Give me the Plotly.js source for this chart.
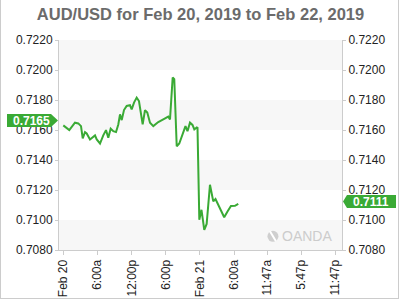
<!DOCTYPE html>
<html><head><meta charset="utf-8">
<script src="https://cdn.plot.ly/plotly-3.0.1.min.js"></script>
<style>
body{margin:0;background:#fff;}
#wrap{position:relative;width:400px;height:300px;}
#chart{width:400px;height:300px;}
#frame{position:absolute;left:0;top:0;width:399px;height:299px;box-sizing:border-box;border:1px solid #cccccc;border-top:none;pointer-events:none;}
</style>
</head><body>
<div id="wrap"><div id="chart"></div><div id="frame"></div></div>
<script>
// Hours since Feb 20, 2019 00:00
const hours = [0, 1.05, 2.05, 2.63, 3.11, 3.41, 3.81, 4.11, 4.69, 5.27, 5.57, 5.87, 6.45, 7.02, 7.5, 7.9, 8.32, 8.78, 9.26, 9.66,
  9.96, 10.26, 10.66, 11.13, 11.71, 12.01, 12.42, 12.89, 13.29, 13.94, 14.35, 14.75, 15.23, 15.81, 16.68, 17.56, 18.44, 18.74,
  19.21, 19.49, 19.92, 20.37, 21.07, 21.46, 21.81, 22.25, 22.69, 23.01, 23.43, 23.57, 23.89, 24.27, 24.76, 25.18, 25.76,
  26.34, 26.73, 27.17, 27.82, 28.26, 28.84, 29.45, 30.15, 30.73];
const prices = [0.71631, 0.71599, 0.71649, 0.71644, 0.71626, 0.71544, 0.71586, 0.71577, 0.71537, 0.71559, 0.71564, 0.71537,
  0.71510, 0.71564, 0.71599, 0.71548, 0.71609, 0.71592, 0.71586, 0.71637, 0.71704, 0.71666, 0.71733, 0.71760, 0.71765,
  0.71738, 0.71783, 0.71816, 0.71793, 0.71637, 0.71733, 0.71716, 0.71649, 0.71626, 0.71653, 0.71671, 0.71689, 0.71671,
  0.71950, 0.71939, 0.71492, 0.71510, 0.71592, 0.71626, 0.71592, 0.71649, 0.71634, 0.71604, 0.71617, 0.71614,
  0.71001, 0.71068, 0.70934, 0.70974, 0.71235, 0.71124, 0.71140, 0.71105, 0.71057, 0.71018, 0.71057, 0.71093, 0.71095, 0.71108];

const xTickVals = [0, 6, 12, 18, 24, 30, 35.783, 41.783, 47.783];
const xTickText = ['Feb 20', '6:00a', '12:00p', '6:00p', 'Feb 21', '6:00a', '11:47a', '5:47p', '11:47p'];
const yTickVals = [0.708, 0.710, 0.712, 0.714, 0.716, 0.718, 0.720, 0.722];
const openLabel = 0.7165;
const lastLabel = 0.7111;
const titleText = 'AUD/USD for Feb 20, 2019 to Feb 22, 2019';

const green = '#3aaa35';
const font = 'Liberation Sans, Arial, sans-serif';
const yRange = [0.708, 0.722];

const shapes = [];
for (let i = 0; i + 1 < yTickVals.length; i += 2) {
  shapes.push({type:'rect', xref:'paper', yref:'y', x0:0, x1:1, y0:yTickVals[i], y1:yTickVals[i+1],
    fillcolor:'#f7f7f7', line:{width:0}, layer:'below'});
}
shapes.push({type:'path', xref:'paper', yref:'y', xsizemode:'pixel', ysizemode:'pixel', xanchor:0, yanchor:openLabel,
  path:'M-52,8.5L-8,8.5L-1,2L-8,-4.5L-52,-4.5Z', fillcolor:green, line:{width:0}});
shapes.push({type:'path', xref:'paper', yref:'y', xsizemode:'pixel', ysizemode:'pixel', xanchor:1, yanchor:lastLabel,
  path:'M1,2L5,8.5L54,8.5L54,-4.5L5,-4.5Z', fillcolor:green, line:{width:0}});
// watermark logo
shapes.push({type:'circle', xref:'paper', yref:'paper', xsizemode:'pixel', ysizemode:'pixel', xanchor:0.756, yanchor:0.065,
  x0:-5.5, x1:5.5, y0:-5.5, y1:5.5, fillcolor:'#cfcfcf', line:{width:0}});
shapes.push({type:'line', xref:'paper', yref:'paper', xsizemode:'pixel', ysizemode:'pixel', xanchor:0.756, yanchor:0.065,
  x0:-3, x1:3, y0:5, y1:-5, line:{color:'#ffffff', width:2}});

const annotations = [
  {xref:'paper', yref:'y', x:0, y:openLabel, xshift:-28, yshift:2, text:'<b>' + openLabel.toFixed(4) + '</b>', showarrow:false,
   xanchor:'center', yanchor:'middle', font:{family:font, size:12, color:'#ffffff'}},
  {xref:'paper', yref:'y', x:1, y:lastLabel, xshift:29, yshift:2, text:'<b>' + lastLabel.toFixed(4) + '</b>', showarrow:false,
   xanchor:'center', yanchor:'middle', font:{family:font, size:12, color:'#ffffff'}},
  {xref:'paper', yref:'paper', x:0.78, y:0.065, text:'OANDA', showarrow:false, xanchor:'left', yanchor:'middle',
   font:{family:font, size:14, color:'#cccccc'}}
];

const axisCommon = {
  range: yRange, tickvals: yTickVals, tickformat: '.4f', ticks: 'outside', ticklen: 3, tickcolor: '#cccccc',
  showline: true, linecolor: '#cccccc', linewidth: 1, showgrid: false, zeroline: false,
  tickfont: {family: font, size: 12, color: '#222222'}, fixedrange: true
};

const data = [
  {x: hours, y: prices, type: 'scatter', mode: 'lines', line: {color: green, width: 2}, hoverinfo: 'skip'},
  {x: hours, y: prices, type: 'scatter', mode: 'lines', yaxis: 'y2', line: {color: green, width: 2}, opacity: 0, hoverinfo: 'skip'}
];

const layout = {
  width: 400, height: 300,
  margin: {l: 59, r: 58, t: 40, b: 50, pad: 0},
  paper_bgcolor: '#ffffff', plot_bgcolor: '#ffffff',
  showlegend: false,
  title: {text: titleText, font: {family: font, size: 16.5, color: '#6b6b6b', weight: 'bold'},
          x: 0.5, xanchor: 'center', xref: 'paper', y: 1 - 14/300, yanchor: 'middle', yref: 'container'},
  xaxis: {range: [-0.755, 48.95], tickvals: xTickVals, ticktext: xTickText, tickangle: -90,
          ticks: 'outside', ticklen: 4, tickcolor: '#cccccc', showline: true, linecolor: '#cccccc',
          showgrid: false, zeroline: false, tickfont: {family: font, size: 12, color: '#222222'}, fixedrange: true},
  yaxis: Object.assign({side: 'left'}, axisCommon),
  yaxis2: Object.assign({side: 'right', overlaying: 'y'}, axisCommon),
  shapes: shapes,
  annotations: annotations
};

Plotly.newPlot('chart', data, layout, {displayModeBar: false, staticPlot: true});
</script>
</body></html>
